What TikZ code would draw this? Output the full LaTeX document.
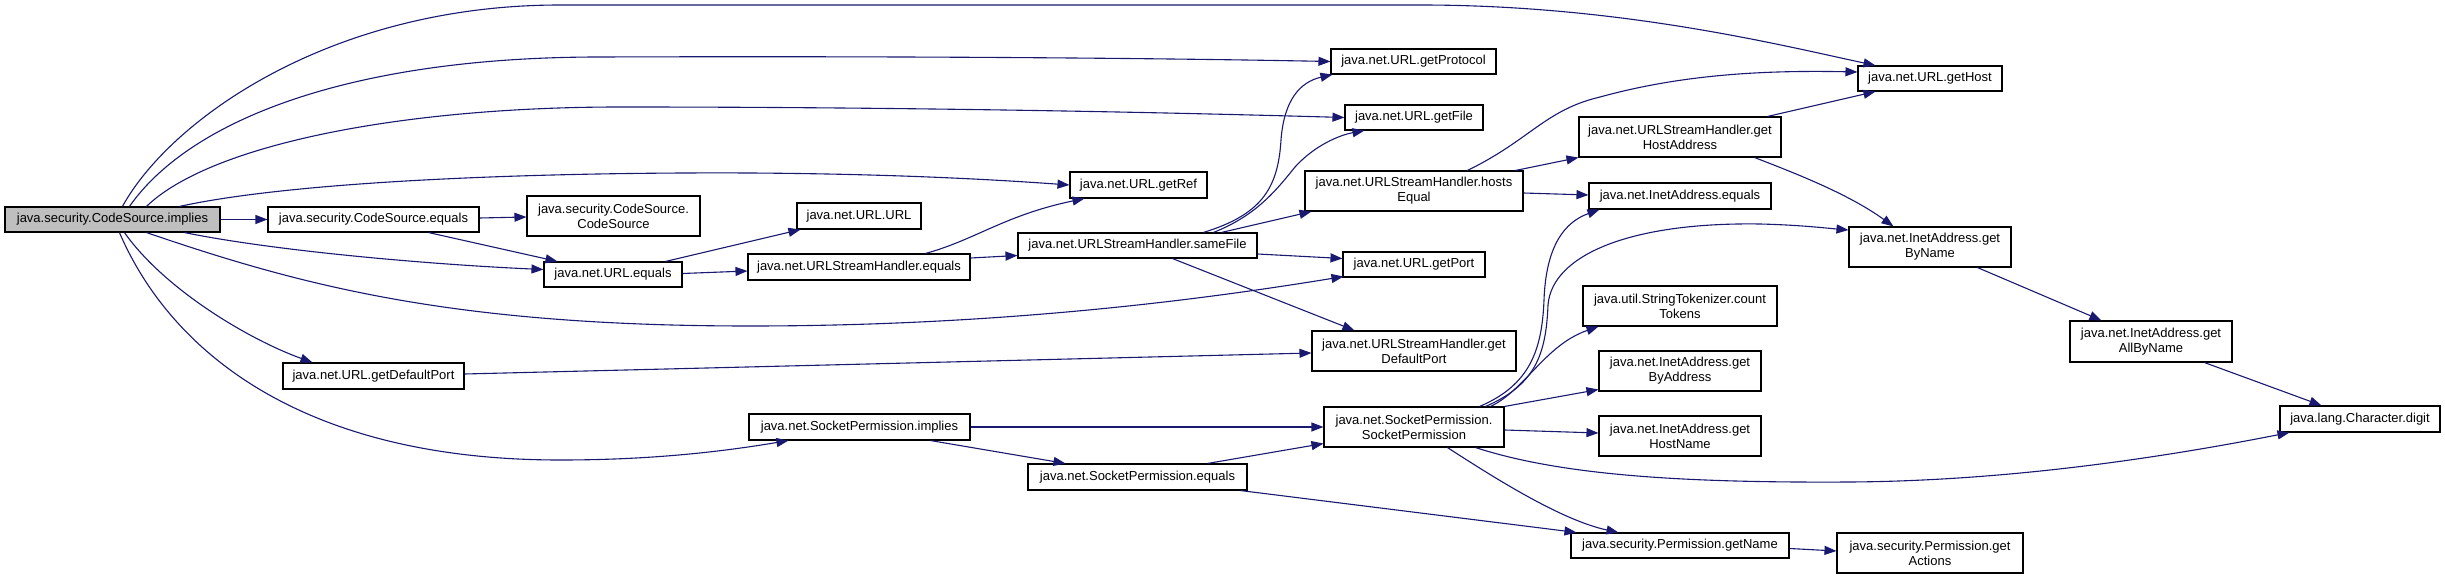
\documentclass[tikz,border=0pt]{standalone}
\usepackage{fontspec}
\setmainfont{Liberation Sans}
\usetikzlibrary{calc,arrows.meta}
\definecolor{edgeblue}{HTML}{191970}
\definecolor{nodegrey}{HTML}{BFBFBF}
\begin{document}
\begin{tikzpicture}[x=1pt,y=-1pt,
  fn/.style={draw=black, line width=1.1pt, fill=white, inner sep=0pt,
    font=\fontsize{13}{15}\selectfont, align=center},
  edge/.style={draw=edgeblue, line width=1.1pt, -{Triangle[length=12pt,width=9pt]}}]
\useasboundingbox (0,0) rectangle (2445,580);
\fill[white] (0,0) rectangle (2445,580);

% nodes
\node[fn, fill=nodegrey, minimum width=215pt, minimum height=25pt] (implies) at (112.5,219.5) {java.security.CodeSource.implies};
\node[fn, minimum width=211pt, minimum height=25pt] (csEquals) at (373.5,219.5) {java.security.CodeSource.equals};
\node[fn, minimum width=181pt, minimum height=26pt] (urlGetDefaultPort) at (373.5,376) {java.net.URL.getDefaultPort};
\node[fn, minimum width=173pt, minimum height=40pt] (csCS) at (613.5,216) {java.security.CodeSource.\\CodeSource};
\node[fn, minimum width=138pt, minimum height=25pt] (urlEquals) at (613,274.5) {java.net.URL.equals};
\node[fn, minimum width=124pt, minimum height=26pt] (urlURL) at (859,216) {java.net.URL.URL};
\node[fn, minimum width=222pt, minimum height=26pt] (ushEquals) at (859,267) {java.net.URLStreamHandler.equals};
\node[fn, minimum width=221pt, minimum height=26pt] (spImplies) at (859.5,427) {java.net.SocketPermission.implies};
\node[fn, minimum width=137pt, minimum height=26pt] (getRef) at (1138.5,185) {java.net.URL.getRef};
\node[fn, minimum width=239pt, minimum height=25pt] (sameFile) at (1137.5,245.5) {java.net.URLStreamHandler.sameFile};
\node[fn, minimum width=219pt, minimum height=26pt] (spEquals) at (1137.5,477) {java.net.SocketPermission.equals};
\node[fn, minimum width=165pt, minimum height=25pt] (getProtocol) at (1413.5,61.5) {java.net.URL.getProtocol};
\node[fn, minimum width=138pt, minimum height=25pt] (getFile) at (1414,117.5) {java.net.URL.getFile};
\node[fn, minimum width=218pt, minimum height=40pt] (hostsEqual) at (1414,191) {java.net.URLStreamHandler.hosts\\Equal};
\node[fn, minimum width=142pt, minimum height=25pt] (getPort) at (1414,264.5) {java.net.URL.getPort};
\node[fn, minimum width=204pt, minimum height=40pt] (ushGetDefaultPort) at (1414,351) {java.net.URLStreamHandler.get\\DefaultPort};
\node[fn, minimum width=180pt, minimum height=40pt] (spSP) at (1414,427) {java.net.SocketPermission.\\SocketPermission};
\node[fn, minimum width=202pt, minimum height=40pt] (getHostAddress) at (1680,137) {java.net.URLStreamHandler.get\\HostAddress};
\node[fn, minimum width=182pt, minimum height=26pt] (iaEquals) at (1680,196) {java.net.InetAddress.equals};
\node[fn, minimum width=194pt, minimum height=40pt] (countTokens) at (1680,306) {java.util.StringTokenizer.count\\Tokens};
\node[fn, minimum width=162pt, minimum height=40pt] (getByAddress) at (1680,371) {java.net.InetAddress.get\\ByAddress};
\node[fn, minimum width=162pt, minimum height=40pt] (getHostName) at (1680,436) {java.net.InetAddress.get\\HostName};
\node[fn, minimum width=218pt, minimum height=25pt] (getName) at (1680,545.5) {java.security.Permission.getName};
\node[fn, minimum width=144pt, minimum height=25pt] (getHost) at (1930,78.5) {java.net.URL.getHost};
\node[fn, minimum width=162pt, minimum height=40pt] (getByName) at (1930,247) {java.net.InetAddress.get\\ByName};
\node[fn, minimum width=186pt, minimum height=40pt] (getActions) at (1930,553) {java.security.Permission.get\\Actions};
\node[fn, minimum width=162pt, minimum height=41pt] (getAllByName) at (2151,341.5) {java.net.InetAddress.get\\AllByName};
\node[fn, minimum width=160pt, minimum height=26pt] (digit) at (2360,419) {java.lang.Character.digit};

% edges from implies
\draw[edge] (implies.east) -- (csEquals.west);
\draw[edge] ($(implies.north west)+(118,0)$) .. controls (170,120) and (330,5) .. (560,5) -- (1420,5) .. controls (1620,5) and (1780,45) .. ($(getHost.north west)+(18,0)$);
\draw[edge] ($(implies.north west)+(125,0)$) .. controls (190,120) and (350,57) .. (600,57) .. controls (900,56) and (1150,58) .. (getProtocol.west);
\draw[edge] ($(implies.north west)+(142,0)$) .. controls (210,145) and (400,107) .. (620,107) .. controls (900,107) and (1150,112) .. (getFile.west);
\draw[edge] ($(implies.north west)+(175,0)$) .. controls (300,180) and (550,172) .. (750,173) .. controls (900,174) and (1000,180) .. (getRef.west);
\draw[edge] ($(implies.south west)+(180,0)$) .. controls (280,252) and (440,265) .. ($(urlEquals.west)+(0,-5)$);
\draw[edge] ($(implies.south west)+(142,0)$) .. controls (300,285) and (450,326) .. (750,326) .. controls (1000,326) and (1200,300) .. ($(getPort.south west)+(1,-1)$);
\draw[edge] ($(implies.south west)+(120,0)$) .. controls (165,290) and (250,340) .. ($(urlGetDefaultPort.north west)+(30,0)$);
\draw[edge] ($(implies.south west)+(115,0)$) .. controls (170,350) and (300,460) .. (560,460) .. controls (650,460) and (720,452) .. ($(spImplies.south west)+(40,0)$);

% other edges
\draw[edge] ($(csEquals.east)+(0,-1.5)$) -- ($(csCS.west)+(0,1)$);
\draw[edge] ($(csEquals.south east)+(-51,0)$) -- ($(urlEquals.north west)+(14,0)$);
\draw[edge] ($(urlEquals.north east)+(-17,0)$) -- ($(urlURL.south west)+(4,0)$);
\draw[edge] ($(urlEquals.east)+(0,-1)$) -- ($(ushEquals.west)+(0,4)$);
\draw[edge] ($(ushEquals.north west)+(178,0)$) .. controls (975,240) and (1005,215) .. ($(getRef.south west)+(15,0)$);
\draw[edge] ($(ushEquals.east)+(0,-9)$) -- ($(sameFile.west)+(0,10)$);
\draw[edge] ($(sameFile.north west)+(186,0)$) .. controls (1260,215) and (1278,190) .. (1281,140) .. controls (1284,100) and (1300,82) .. ($(getProtocol.south west)+(2,0)$);
\draw[edge] ($(sameFile.north west)+(196,0)$) .. controls (1255,216) and (1275,192) .. (1295,167) .. controls (1315,145) and (1340,135) .. ($(getFile.south west)+(20,0)$);
\draw[edge] ($(sameFile.north west)+(204,0)$) -- ($(hostsEqual.south west)+(7,0)$);
\draw[edge] ($(sameFile.east)+(0,8.5)$) -- ($(getPort.west)+(0,-6)$);
\draw[edge] ($(sameFile.south west)+(155,0)$) -- ($(ushGetDefaultPort.north west)+(43,0)$);
\draw[edge] ($(hostsEqual.north west)+(163,0)$) .. controls (1530,140) and (1545,110) .. (1600,97) .. controls (1680,75) and (1760,70) .. ($(getHost.west)+(0,-6.5)$);
\draw[edge] ($(hostsEqual.north east)+(-8,0)$) -- (getHostAddress.south west);
\draw[edge] ($(hostsEqual.east)+(0,2)$) -- ($(iaEquals.west)+(0,-1)$);
\draw[edge] ($(getHostAddress.north east)+(-14,0)$) -- ($(getHost.south west)+(18,0)$);
\draw[edge] ($(getHostAddress.south east)+(-27,0)$) .. controls (1800,175) and (1850,195) .. ($(getByName.north west)+(45,0)$);
\draw[edge] ($(getByName.south west)+(129,0)$) -- ($(getAllByName.north west)+(32,0)$);
\draw[edge] ($(getAllByName.south west)+(135,0)$) -- ($(digit.north west)+(42,0)$);
\draw[edge] ($(urlGetDefaultPort.east)+(0,-2)$) -- ($(ushGetDefaultPort.west)+(0,2)$);
\draw[edge] (spImplies.east) -- (spSP.west);
\draw[edge] ($(spImplies.south east)+(-40,0)$) -- ($(spEquals.north west)+(38,0)$);
\draw[edge] ($(spEquals.north east)+(-40,0)$) -- ($(spSP.south west)+(0,-4)$);
\draw[edge] ($(spEquals.south east)+(-7,0)$) -- ($(getName.north west)+(6,0)$);
\draw[edge] ($(spSP.south west)+(124,0)$) .. controls (1490,475) and (1560,520) .. ($(getName.north west)+(48,0)$);
\draw[edge] ($(spSP.south east)+(-29,0)$) .. controls (1560,475) and (1680,483) .. (1850,482) .. controls (2000,481) and (2150,460) .. ($(digit.south west)+(10,0)$);
\draw[edge] ($(spSP.east)+(0,3)$) -- ($(getHostName.west)+(0,-3)$);
\draw[edge] (spSP.north east) -- ($(getByAddress.south west)+(0,-2)$);
\draw[edge] ($(spSP.north east)+(-14,0)$) .. controls (1525,390) and (1545,345) .. ($(countTokens.south west)+(16,0)$);
\draw[edge] ($(spSP.north east)+(-25,0)$) .. controls (1530,385) and (1542,350) .. (1544,300) .. controls (1546,245) and (1565,222) .. ($(iaEquals.south west)+(11,0)$);
\draw[edge] ($(spSP.north east)+(-19,0)$) .. controls (1535,385) and (1546,355) .. (1548,305) .. controls (1552,255) and (1630,222) .. (1760,224) .. controls (1800,225) and (1825,228) .. ($(getByName.west)+(0,-17)$);
\draw[edge] ($(getName.east)+(0,3)$) -- ($(getActions.west)+(0,-2)$);
\end{tikzpicture}
\end{document}
